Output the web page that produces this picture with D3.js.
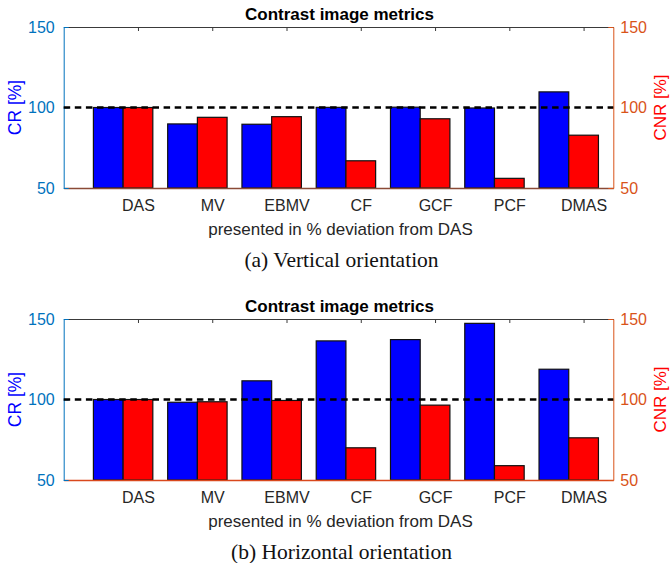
<!DOCTYPE html>
<html>
<head>
<meta charset="utf-8">
<script src="https://cdn.jsdelivr.net/npm/d3@7"></script>
<style>
  body { margin: 0; background: #fff; }
  svg { display: block; }
</style>
</head>
<body>
<div id="chart"></div>
<script>
// data (percent of DAS)
const methods = ['DAS', 'MV', 'EBMV', 'CF', 'GCF', 'PCF', 'DMAS'];
const crVertical = [100, 89.8, 89.6, 100.1, 100.2, 99.7, 109.7];
const cnrVertical = [100, 93.9, 94.3, 66.9, 93.0, 56.0, 82.8];
const crHorizontal = [100, 98.3, 111.6, 136.4, 137.2, 147.3, 118.8];
const cnrHorizontal = [100, 98.6, 99.4, 70.0, 96.5, 58.9, 76.2];
const yTicks = [50, 100, 150];
const panels = [
  { cr: crVertical, cnr: cnrVertical, caption: '(a) Vertical orientation', baseColor: '#8a4a36' },
  { cr: crHorizontal, cnr: cnrHorizontal, caption: '(b) Horizontal orientation', baseColor: '#d9481c' }
];

(() => {
  const W = 671, H = 563;
  const svg = d3.select('#chart').append('svg')
    .attr('width', W).attr('height', H)
    .attr('viewBox', '0 0 ' + W + ' ' + H);

  const sans = 'Liberation Sans, Arial, Helvetica, sans-serif';
  const blueAxis = '#0072BD', orangeAxis = '#D95319';
  const left = 63.7, right = 613.3, plotH = 161;

  // group centres at 1..7, category ticks sit under the red bar
  const x = d3.scaleLinear().domain([0.2, 7.6]).range([left, right]);
  const barW = 0.4;

  panels.forEach(function(p, k) {
    const top = 27 + k * 292, bottom = top + plotH;
    const g = svg.append('g');

    const yL = d3.scaleLinear().domain([50, 150]).range([bottom, top]);
    const yR = d3.scaleLinear().domain([50, 150]).range([bottom, top]);

    // bars
    g.selectAll('rect.cr').data(p.cr).enter().append('rect')
      .attr('class', 'cr')
      .attr('x', (d, i) => x(i + 1 - barW))
      .attr('width', (d, i) => x(i + 1) - x(i + 1 - barW))
      .attr('y', d => yL(d))
      .attr('height', d => yL(50) - yL(d))
      .attr('fill', '#0000ff')
      .attr('stroke', '#111').attr('stroke-width', 1.2);

    g.selectAll('rect.cnr').data(p.cnr).enter().append('rect')
      .attr('class', 'cnr')
      .attr('x', (d, i) => x(i + 1))
      .attr('width', (d, i) => x(i + 1 + barW) - x(i + 1))
      .attr('y', d => yR(d))
      .attr('height', d => yR(50) - yR(d))
      .attr('fill', '#ff0000')
      .attr('stroke', '#111').attr('stroke-width', 1.2);

    // top border with ticks pointing down
    const topAxis = g.append('g')
      .attr('transform', 'translate(0,' + top + ')')
      .call(d3.axisBottom(x).tickValues(methods.map((m, i) => i + 1 + barW / 2))
        .tickSize(4).tickSizeOuter(0).tickFormat(''));
    topAxis.selectAll('path, line').attr('stroke', '#3a3a3a').attr('stroke-width', 1);

    // category labels along the bottom
    const botAxis = g.append('g')
      .attr('transform', 'translate(0,' + bottom + ')')
      .call(d3.axisBottom(x).tickValues(methods.map((m, i) => i + 1 + barW / 2))
        .tickSize(0).tickPadding(11.5).tickFormat((d, i) => methods[i]));
    botAxis.select('path').attr('stroke', p.baseColor).attr('stroke-width', 1.3);
    botAxis.selectAll('text').attr('font-family', sans).attr('font-size', 16).attr('fill', '#262626');

    // left axis (CR)
    const la = g.append('g')
      .attr('transform', 'translate(' + left + ',0)')
      .call(d3.axisLeft(yL).tickValues(yTicks).tickSize(-5).tickSizeOuter(0).tickPadding(9));
    la.selectAll('path, line').attr('stroke', blueAxis).attr('stroke-width', 1);
    la.selectAll('text').attr('font-family', sans).attr('font-size', 16).attr('fill', blueAxis);

    // right axis (CNR)
    const ra = g.append('g')
      .attr('transform', 'translate(' + right + ',0)')
      .call(d3.axisRight(yR).tickValues(yTicks).tickSize(-5).tickSizeOuter(0).tickPadding(7));
    ra.selectAll('path, line').attr('stroke', orangeAxis).attr('stroke-width', 1);
    ra.selectAll('text').attr('font-family', sans).attr('font-size', 16).attr('fill', orangeAxis);

    // 100 % reference line
    g.append('line')
      .attr('x1', left).attr('x2', right)
      .attr('y1', yL(100)).attr('y2', yL(100))
      .attr('stroke', '#000').attr('stroke-width', 2.6)
      .attr('stroke-dasharray', '6.5,4.6');

    // titles and labels
    g.append('text')
      .text('Contrast image metrics')
      .attr('x', (left + right) / 2 + 1).attr('y', top - 7)
      .attr('text-anchor', 'middle')
      .attr('font-family', sans).attr('font-weight', 'bold').attr('font-size', 17)
      .attr('fill', '#000');

    g.append('text')
      .text('CR [%]')
      .attr('text-anchor', 'middle')
      .attr('font-family', sans).attr('font-size', 17.5)
      .attr('fill', '#0000ff')
      .attr('transform', 'translate(21,' + ((top + bottom) / 2) + ') rotate(-90)');

    g.append('text')
      .text('CNR [%]')
      .attr('text-anchor', 'middle')
      .attr('font-family', sans).attr('font-size', 17)
      .attr('fill', '#ff0000')
      .attr('transform', 'translate(666,' + ((top + bottom) / 2) + ') rotate(-90)');

    g.append('text')
      .text('presented in % deviation from DAS')
      .attr('x', (left + right) / 2 + 2).attr('y', bottom + 47)
      .attr('text-anchor', 'middle')
      .attr('font-family', sans).attr('font-size', 17)
      .attr('fill', '#262626');

    g.append('text')
      .text(p.caption)
      .attr('x', (left + right) / 2 + 3).attr('y', bottom + 79)
      .attr('text-anchor', 'middle')
      .attr('font-family', 'Liberation Serif, Times New Roman, serif').attr('font-size', 21.5)
      .attr('fill', '#111');
  });
})();
</script>
</body>
</html>
